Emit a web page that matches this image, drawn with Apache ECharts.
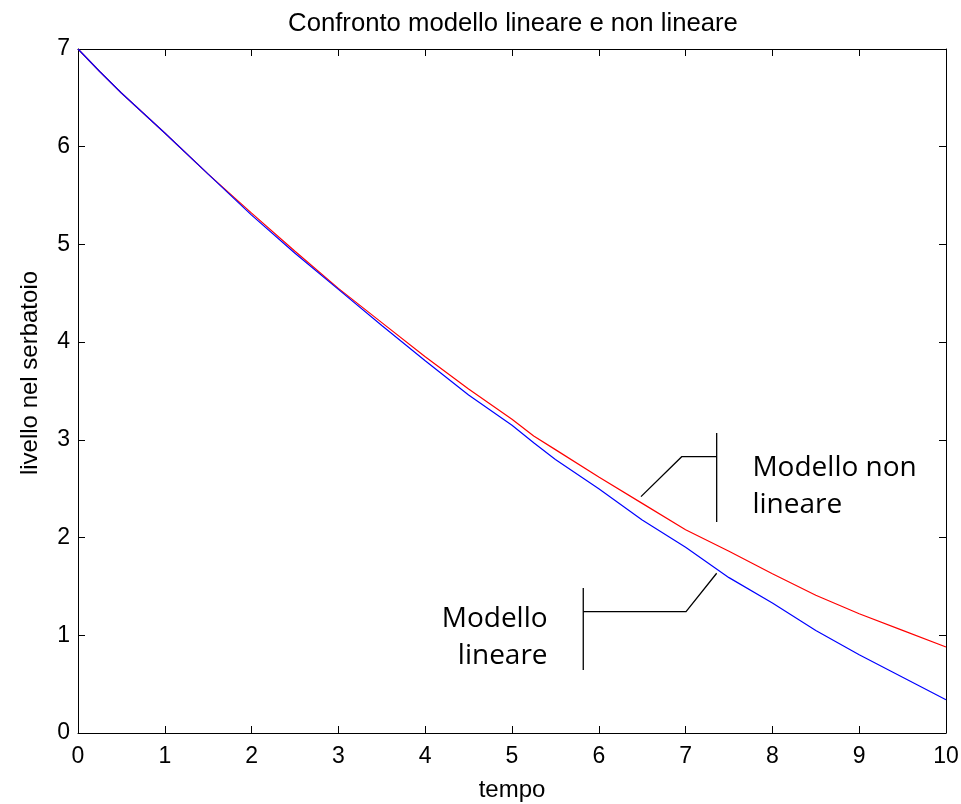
<!DOCTYPE html>
<html>
<head>
<meta charset="utf-8">
<script src="https://cdn.jsdelivr.net/npm/echarts@6/dist/echarts.min.js"></script>
<style>
  html, body { margin: 0; padding: 0; background: #fff; }
  #chart { width: 961px; height: 804px; }
</style>
</head>
<body>
<div id="chart"></div>
<script>
// Simulated tank level over time: linearised vs non-linear model
const tempo = [0, 0.25, 0.5, 1.0, 1.5, 2.0, 2.5, 3.0, 3.5, 4.0, 4.5, 5.0, 5.25, 5.5, 6.0, 6.5, 7.0, 7.5, 8.0, 8.5, 9.0, 9.5, 10];
const livelloLineare = [7.00, 6.77, 6.55, 6.14, 5.72, 5.30, 4.91, 4.54, 4.17, 3.81, 3.46, 3.15, 2.97, 2.80, 2.50, 2.18, 1.90, 1.59, 1.33, 1.05, 0.80, 0.57, 0.34];
const livelloNonLineare = [7.00, 6.77, 6.55, 6.14, 5.72, 5.32, 4.93, 4.55, 4.20, 3.85, 3.52, 3.21, 3.04, 2.90, 2.62, 2.35, 2.08, 1.86, 1.63, 1.41, 1.22, 1.05, 0.88];

const xTicks = [0, 1, 2, 3, 4, 5, 6, 7, 8, 9, 10];
const yTicks = [0, 1, 2, 3, 4, 5, 6, 7];

// Callout leaders, in data units
const calloutNonLineare = [[7.358, 3.07], [7.358, 2.16], null, [7.358, 2.828], [6.955, 2.828], [6.486, 2.419]];
const calloutLineare = [[5.821, 1.484], [5.821, 0.645], null, [5.821, 1.242], [7.005, 1.242], [7.358, 1.635]];

const pair = (xs, ys) => xs.map((x, i) => [x, ys[i]]);

const chart = echarts.init(document.getElementById('chart'), null, { renderer: 'canvas' });

const FONT = 'Liberation Sans, Arial, sans-serif';
const GRID = { left: 78, right: 15, top: 49, bottom: 71 };
const axisCommon = {
  axisLine: { show: true, onZero: false, lineStyle: { color: '#000', width: 1 } },
  axisTick: { show: true, inside: true, length: 7, lineStyle: { color: '#000', width: 1 } },
  splitLine: { show: false },
  axisLabel: { color: '#000', fontSize: 23, fontFamily: FONT }
};

chart.setOption({
  animation: false,
  backgroundColor: '#fff',
  title: {
    text: 'Confronto modello lineare e non lineare',
    left: 508,
    textAlign: 'center',
    top: 6,
    textStyle: { color: '#000', fontSize: 25.7, fontWeight: 'normal', fontFamily: FONT }
  },
  grid: Object.assign({ outerBoundsMode: 'none', containLabel: false }, GRID),
  xAxis: [
    Object.assign({}, axisCommon, {
      type: 'value', min: 0, max: 10, interval: 1, position: 'bottom',
      name: 'tempo', nameLocation: 'middle', nameGap: 45,
      nameTextStyle: { color: '#000', fontSize: 24, fontFamily: FONT },
      axisLabel: Object.assign({}, axisCommon.axisLabel, { margin: 12 })
    }),
    Object.assign({}, axisCommon, {
      type: 'value', min: 0, max: 10, interval: 1, position: 'top',
      axisLabel: { show: false }
    })
  ],
  yAxis: [
    Object.assign({}, axisCommon, {
      type: 'value', min: 0, max: 7, interval: 1, position: 'left',
      name: 'livello nel serbatoio', nameLocation: 'middle', nameGap: 36,
      nameTextStyle: { color: '#000', fontSize: 24, fontFamily: FONT, padding: [0, 0, 0, 36] },
      axisLabel: Object.assign({}, axisCommon.axisLabel, { margin: 8 })
    }),
    Object.assign({}, axisCommon, {
      type: 'value', min: 0, max: 7, interval: 1, position: 'right',
      axisLabel: { show: false }
    })
  ],
  series: [
    {
      name: 'Modello non lineare', type: 'line', data: pair(tempo, livelloNonLineare),
      showSymbol: false, smooth: false, lineStyle: { color: '#ff0000', width: 1.2 }, z: 2
    },
    {
      name: 'Modello lineare', type: 'line', data: pair(tempo, livelloLineare),
      showSymbol: false, smooth: false, lineStyle: { color: '#0000ff', width: 1.2 }, z: 3
    }
  ]
});

// Leader lines and labels placed from data coordinates
function toPx(p) { return chart.convertToPixel({ gridIndex: 0 }, p); }
function segments(pts) {
  const out = [];
  let cur = [];
  pts.forEach(p => {
    if (p === null) { if (cur.length) out.push(cur); cur = []; }
    else cur.push(toPx(p));
  });
  if (cur.length) out.push(cur);
  return out;
}
const leaderStyle = { stroke: '#000', lineWidth: 1.3, fill: null };
const graphics = [];
[calloutNonLineare, calloutLineare].forEach(c => {
  segments(c).forEach(seg => {
    graphics.push({ type: 'polyline', shape: { points: seg }, style: leaderStyle, z: 10 });
  });
});
const LBL_FONT = '28px "Open Sans", "Noto Sans", sans-serif';
const pNL = toPx([7.77, 2.52]);
graphics.push({
  type: 'text', x: pNL[0], y: pNL[1],
  style: { text: 'Modello non\nlineare', font: LBL_FONT, fill: '#000', align: 'left', verticalAlign: 'middle', lineHeight: 37 },
  z: 10
});
const pL = toPx([5.41, 0.98]);
graphics.push({
  type: 'text', x: pL[0], y: pL[1],
  style: { text: 'Modello\nlineare', font: LBL_FONT, fill: '#000', align: 'right', verticalAlign: 'middle', lineHeight: 37 },
  z: 10
});
chart.setOption({ graphic: graphics });
</script>
</body>
</html>
